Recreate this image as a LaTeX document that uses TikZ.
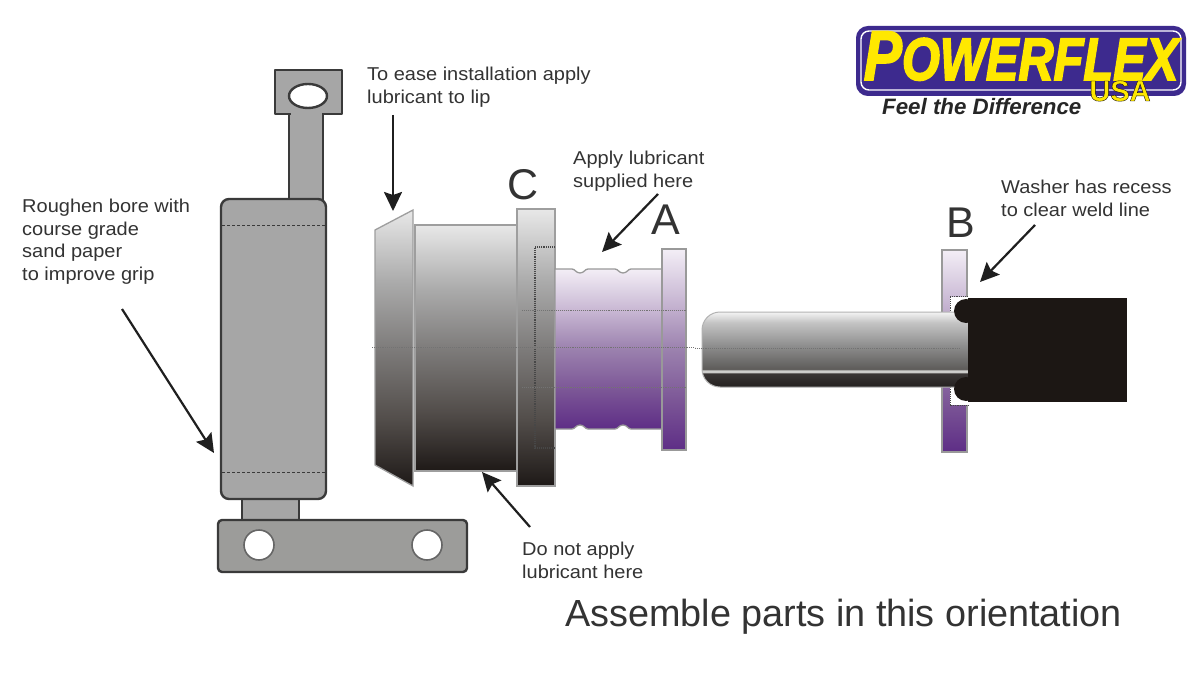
\documentclass[tikz,border=0pt]{standalone}
\usepackage{fontspec}
\setmainfont{Liberation Sans}
\usetikzlibrary{arrows.meta}
\definecolor{txt}{HTML}{333333}
\definecolor{partgray}{HTML}{A6A6A6}
\definecolor{bracketgray}{HTML}{9C9C9A}
\definecolor{partline}{HTML}{3A3A3A}
\definecolor{logopurple}{HTML}{3D2A8E}
\definecolor{logoyellow}{HTML}{FFE800}
\definecolor{blackend}{HTML}{1C1714}
\definecolor{mA}{HTML}{1E1917}\definecolor{mB}{HTML}{524D4A}\definecolor{mC}{HTML}{7E7C7B}\definecolor{mD}{HTML}{ABABAB}\definecolor{mE}{HTML}{E8E8E8}
\definecolor{pA}{HTML}{5E2E86}\definecolor{pB}{HTML}{7B5596}\definecolor{pC}{HTML}{9B81AE}\definecolor{pD}{HTML}{C8B7D3}\definecolor{pE}{HTML}{F3EEF6}
\definecolor{qA}{HTML}{242120}\definecolor{qB}{HTML}{3A3635}\definecolor{qC}{HTML}{CFCFCD}\definecolor{qD}{HTML}{5E5C5A}\definecolor{qE}{HTML}{8C8C8C}\definecolor{qF}{HTML}{C4C4C4}\definecolor{qG}{HTML}{F4F4F4}
\pgfdeclareverticalshading{metal}{100bp}{color(0bp)=(mA);color(25bp)=(mA);color(37bp)=(mB);color(50bp)=(mC);color(62bp)=(mD);color(75bp)=(mE);color(100bp)=(mE)}
\pgfdeclareverticalshading{plum}{100bp}{color(0bp)=(pA);color(25bp)=(pA);color(37bp)=(pB);color(50bp)=(pC);color(62bp)=(pD);color(75bp)=(pE);color(100bp)=(pE)}
\pgfdeclareverticalshading{pinshade}{100bp}{color(0bp)=(qA);color(25bp)=(qA);color(34bp)=(qB);color(35bp)=(qC);color(36bp)=(qC);color(37bp)=(qD);color(52bp)=(qE);color(68bp)=(qF);color(75bp)=(qG);color(100bp)=(qG)}
\tikzset{
  note/.style={font=\fontsize{18.6}{22.6}\selectfont,text=txt,align=left,anchor=north west,inner sep=0pt,transform shape,xscale=1.075},
  letter/.style={font=\fontsize{43}{43}\selectfont,text=txt,inner sep=0pt},
  pointer/.style={draw=black!88,line width=2.2pt,-{Stealth[length=19pt,width=18pt,inset=3pt]}},
  holder/.style={draw=partline,line width=2.4pt,fill=partgray,line join=round},
  metalpart/.style={draw=black!38,line width=1.3pt,shading=metal},
  plumpart/.style={draw=black!40,line width=1.3pt,shading=plum},
  hidden/.style={draw=black!72,line width=1.1pt,densely dotted},
  axis/.style={draw=black!55,line width=.9pt,densely dotted},
  logotext/.style={font=\bfseries\itshape\fontsize{46}{46}\selectfont,inner sep=0pt,transform shape,xscale=1.06,yscale=1.3},
}
\newcommand{\outlined}[3]{\special{pdf:code 2 Tr #1 w #2 RG}#3\special{pdf:code 0 Tr}}
\begin{document}
\begin{tikzpicture}[x=1pt,y=-1pt]
\useasboundingbox (0,0) rectangle (1200,674);
\fill[white] (0,0) rectangle (1200,674);
% holder
\draw[holder] (275,70) rectangle (342,114);
\draw[holder] (289,114) rectangle (323,200);
\fill[partgray] (290.5,110) rectangle (321.5,118);
\draw[holder,fill=white] (308,96) ellipse (19 and 12);
\draw[holder,line width=2pt] (242,497) rectangle (299,522);
\draw[holder,rounded corners=8pt] (221,199) rectangle (326,499);
\draw[partline,line width=1pt,densely dashed] (222,225) -- (325,225);
\draw[partline,line width=1pt,densely dashed] (222,472) -- (325,472);
\draw[holder,fill=bracketgray,rounded corners=4pt] (218,520) rectangle (467,572);
\draw[black!60,line width=1.6pt,fill=white] (259,545) circle (15);
\draw[black!60,line width=1.6pt,fill=white] (427,545) circle (15);
% bush C
\path[metalpart] (415,225) rectangle (517,471);
\path[metalpart] (375,230) -- (413,210) -- (413,486) -- (375,465) -- cycle;
\path[metalpart] (517,209) rectangle (555,486);
% bush A
\path[plumpart] (555,269) -- (572,269) .. controls (575,269) and (576,273) .. (580,273) .. controls (584,273) and (585,269) .. (588,269) -- (615,269) .. controls (618,269) and (619,273) .. (623,273) .. controls (627,273) and (628,269) .. (631,269) -- (662,269) -- (662,429) -- (631,429) .. controls (628,429) and (627,425) .. (623,425) .. controls (619,425) and (618,429) .. (615,429) -- (588,429) .. controls (585,429) and (584,425) .. (580,425) .. controls (576,425) and (575,429) .. (572,429) -- (555,429) -- cycle;
\path[plumpart] (662,249) rectangle (686,450);
\draw[hidden] (555,247) -- (535,247) -- (535,448) -- (555,448);
\draw[axis] (522,310) -- (686,310);
\draw[axis] (522,387) -- (686,387);
\draw[axis] (372,347) -- (695,347);
% washer B
\path[plumpart] (942,250) rectangle (967,452);
\fill[white] (950,297) rectangle (968,405);
\draw[hidden,line width=.7pt] (968,296) -- (950,296) -- (950,405) -- (968,405);
% pin
\path[draw=black!30,line width=1pt,shading=pinshade,rounded corners=18pt] (968,312) -- (702,312) -- (702,387) -- (968,387);
\draw[axis] (695,348) -- (960,348);
% black end
\fill[blackend] (968,298) rectangle (1127,402);
\fill[blackend] (966,311) circle (12);
\fill[blackend] (966,389) circle (12);
% labels
\node[note] (roughen) at (22,199) {Roughen bore with\\course grade\\sand paper\\to improve grip};
\node[note] (ease) at (367,67) {To ease installation apply\\lubricant to lip};
\node[note] (apply) at (573,151) {Apply lubricant\\supplied here};
\node[note] (washer) at (1001,180) {Washer has recess\\to clear weld line};
\node[note] (donot) at (522,542) {Do not apply\\lubricant here};
\node[letter] (lettera) at (666,220) {A};
\node[letter] (letterb) at (961,223) {B};
\node[letter] (letterc) at (523,185) {C};
\node[font=\fontsize{37.8}{40}\selectfont,text=txt,anchor=west,inner sep=0pt] (title) at (565,617) {Assemble parts in this orientation};
% pointers
\coordinate (tipe) at (393,211);
\coordinate (tipr) at (214,453);
\coordinate (tipa) at (602,252);
\coordinate (tipw) at (980,282);
\coordinate (tipd) at (482,472);
\coordinate (taile) at (393,115);
\coordinate (tailr) at (122,309);
\coordinate (taila) at (658,194);
\coordinate (tailw) at (1035,225);
\coordinate (taild) at (530,527);
\draw[pointer] (taile) -- (tipe);
\draw[pointer] (tailr) -- (tipr);
\draw[pointer] (taila) -- (tipa);
\draw[pointer] (tailw) -- (tipw);
\draw[pointer] (taild) -- (tipd);
% logo
\draw[draw=logopurple,line width=2pt,fill=logopurple,rounded corners=11pt] (857,27) rectangle (1185,95);
\draw[draw=white,line width=1.4pt,rounded corners=8pt] (861,31) rectangle (1181,90);
\node[logotext,text=logoyellow] (logomain) at (1021,56) {\outlined{1.4}{1 0.91 0}{{\fontsize{54}{54}\selectfont P}OWERFLEX}};
\node[font=\bfseries\fontsize{29}{29}\selectfont,text=logoyellow,inner sep=0pt] (usamain) at (1120,91) {\outlined{0.4}{0.08 0.06 0.06}{USA}};
\node[font=\bfseries\itshape\fontsize{22.3}{22}\selectfont,text=black!85,anchor=west,inner sep=0pt] (slogan) at (882,107) {Feel the Difference};
\end{tikzpicture}
\end{document}
